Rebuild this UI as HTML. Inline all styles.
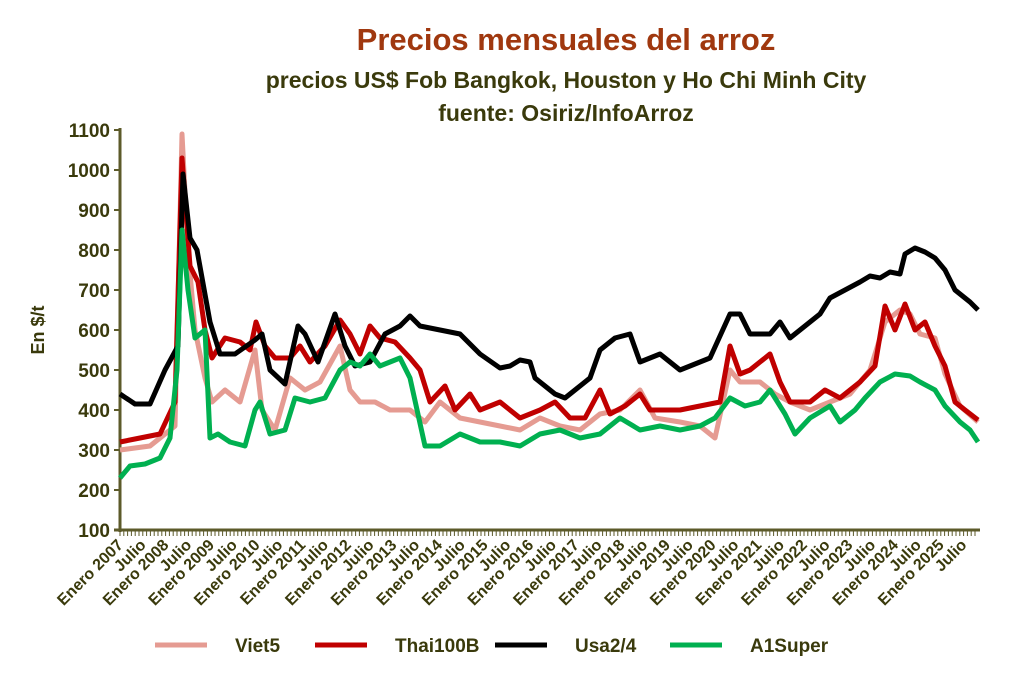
<!DOCTYPE html>
<html><head><meta charset="utf-8"><style>
body{margin:0;background:#fff;width:1024px;height:671px;overflow:hidden}
svg{font-family:"Liberation Sans",sans-serif;font-weight:bold}
</style></head><body>
<svg id="s" width="1024" height="671" xmlns="http://www.w3.org/2000/svg">
<text x="566" y="50" text-anchor="middle" font-size="31" fill="#a0380f">Precios mensuales del arroz</text>
<text x="566" y="88" text-anchor="middle" font-size="23" fill="#3a3a0c">precios US$ Fob Bangkok, Houston y Ho Chi Minh City</text>
<text x="566" y="121" text-anchor="middle" font-size="23" fill="#3a3a0c">fuente: Osiriz/InfoArroz</text>
<text transform="translate(44,330) rotate(-90)" text-anchor="middle" font-size="18" fill="#3a3a0c">En $/t</text>
<g id="g"></g>
</svg>
<script>
var g=document.getElementById('g'),h='';
var C='#5c5a2a';
h+='<line x1="120" y1="128" x2="120" y2="532" stroke="'+C+'" stroke-width="3"/>';
h+='<line x1="114" y1="530" x2="980" y2="530" stroke="'+C+'" stroke-width="3"/>';
for(var v=100;v<=1100;v+=100){var y=530-(v-100)*0.4;h+='<line x1="114" y1="'+y+'" x2="120" y2="'+y+'" stroke="'+C+'" stroke-width="2"/><text x="110" y="'+(y+7)+'" text-anchor="end" font-size="19" fill="#3a3a0c">'+v+'</text>';}
for(var m=0;m<=225;m++){var x=120+m*3.8;h+='<line x1="'+x+'" y1="530" x2="'+x+'" y2="536" stroke="'+C+'" stroke-width="1"/>';}
for(var k=0;k<=37;k++){var x=124+k*6*3.8;var t=k%2?'Julio':'Enero '+(2007+k/2);h+='<text transform="translate('+x+',546) rotate(-45)" text-anchor="end" font-size="16" fill="#3a3a0c">'+t+'</text>';}
function P(a,col){var s='';for(var i=0;i<a.length;i+=2){s+=a[i]+','+(530-(a[i+1]-100)*0.4)+' ';}h+='<polyline points="'+s+'" fill="none" stroke="'+col+'" stroke-width="5" stroke-linejoin="round"/>';}
P([120,300,150,310,175,360,182,1090,188,800,195,600,205,480,212,420,225,450,240,420,255,550,262,400,275,350,290,480,305,450,320,470,340,560,350,450,360,420,375,420,390,400,410,400,425,370,440,420,460,380,480,370,500,360,520,350,540,380,560,360,580,350,600,390,620,400,640,450,655,380,680,370,700,360,715,330,730,500,740,470,760,470,775,440,790,420,810,400,830,420,850,440,870,500,885,620,900,650,910,640,920,590,935,580,945,490,960,410,978,370],'#e59b92');
P([120,320,140,330,160,340,175,420,182,1030,190,760,198,720,205,600,212,530,225,580,240,570,250,550,256,620,265,560,275,530,290,530,300,560,310,520,325,560,340,625,350,590,360,540,370,610,380,580,395,570,410,530,420,500,430,420,445,460,455,400,470,440,480,400,500,420,520,380,540,400,555,420,570,380,585,380,600,450,610,390,625,410,640,440,650,400,680,400,700,410,720,420,730,560,740,490,750,500,770,540,780,470,790,420,810,420,825,450,840,430,860,470,875,510,885,660,895,600,905,665,915,600,925,620,935,560,945,510,955,420,965,400,978,375],'#c00000');
P([120,440,135,415,150,415,165,500,178,560,183,990,190,830,197,800,210,620,220,540,235,540,255,575,262,590,270,500,285,465,298,610,305,590,318,520,335,640,345,560,355,510,370,520,385,590,400,610,410,635,420,610,440,600,460,590,480,540,500,505,510,510,520,525,530,520,535,480,545,460,555,440,565,430,575,450,590,480,600,550,615,580,630,590,640,520,660,540,670,520,680,500,690,510,710,530,720,585,730,640,740,640,750,590,770,590,780,620,790,580,800,600,820,640,830,680,845,700,860,720,870,735,880,730,890,745,900,740,905,790,915,805,925,795,935,780,945,750,955,700,970,670,978,650],'#000');
P([120,230,130,260,145,265,160,280,170,330,177,500,182,850,188,700,195,580,205,600,210,330,218,340,230,320,245,310,255,400,260,420,270,340,285,350,295,430,310,420,325,430,340,500,350,520,360,510,370,540,380,510,390,520,400,530,410,480,425,310,440,310,460,340,480,320,500,320,520,310,540,340,560,350,580,330,600,340,620,380,640,350,660,360,680,350,700,360,715,380,730,430,745,410,760,420,770,450,785,390,795,340,810,380,830,410,840,370,855,400,865,430,880,470,895,490,910,485,920,470,935,450,945,410,960,370,970,350,978,320],'#00b050');
var L=[[155,'#e59b92','Viet5'],[315,'#c00000','Thai100B'],[495,'#000','Usa2/4'],[670,'#00b050','A1Super']];
L.forEach(function(l){h+='<line x1="'+l[0]+'" y1="645" x2="'+(l[0]+52)+'" y2="645" stroke="'+l[1]+'" stroke-width="5"/><text x="'+(l[0]+80)+'" y="652" font-size="19" fill="#3a3a0c">'+l[2]+'</text>';});
g.innerHTML=h;
</script>
</body></html>
